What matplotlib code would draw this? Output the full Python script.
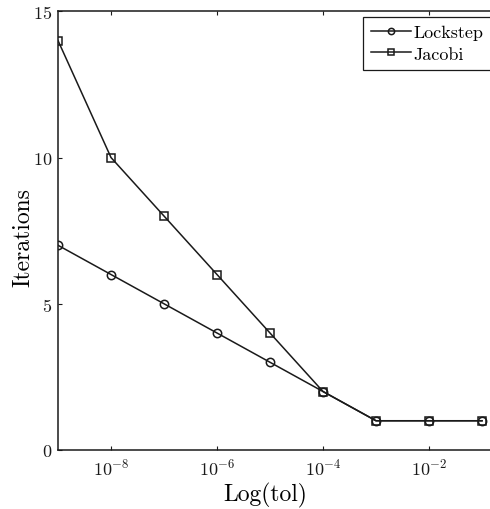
import matplotlib
matplotlib.use("Agg")
import matplotlib.pyplot as plt
import numpy as np

tol = [1e-9, 1e-8, 1e-7, 1e-6, 1e-5, 1e-4, 1e-3, 1e-2, 1e-1]
lockstep = [7, 6, 5, 4, 3, 2, 1, 1, 1]
jacobi = [14, 10, 8, 6, 4, 2, 1, 1, 1]
xticks = [1e-8, 1e-6, 1e-4, 1e-2]
yticks = [0, 5, 10, 15]

plt.rcParams['font.family'] = ['cmr10', 'DejaVu Serif']
plt.rcParams['mathtext.fontset'] = 'cm'
plt.rcParams['axes.formatter.use_mathtext'] = True
plt.rcParams['axes.unicode_minus'] = False

fig = plt.figure(figsize=(4.9, 5.1), dpi=100)
W, H = 490, 510
x0, x1, ytop, ybot = 58, 497, 12.3, 451
ax = fig.add_axes([x0/W, (H-ybot)/H, (x1-x0)/W, (ybot-ytop)/H])
col = '#1a1a1a'
ax.plot(tol, lockstep, '-o', color=col, lw=1.1, ms=6, mfc='none', mew=1.1, label='Lockstep')
ax.plot(tol, jacobi, '-s', color=col, lw=1.1, ms=5.2, mfc='none', mew=1.1, label='Jacobi')
ax.set_xscale('log')
ax.set_xlim(1e-9, 10**(-0.717))
ax.set_ylim(0, 15)
ax.set_xticks(xticks)
ax.set_yticks(yticks)
ax.minorticks_off()
ax.tick_params(direction='in', length=3, width=0.8, top=True, right=True, labelsize=13, colors=col)
ax.tick_params(axis='x', pad=5)
ax.tick_params(axis='y', pad=4)
for s in ax.spines.values():
    s.set_linewidth(1.1)
    s.set_color(col)
ax.set_xlabel('Log(tol)', fontsize=17)
ax.set_ylabel('Iterations', fontsize=17)
ax.xaxis.label.set_va('center')
ax.yaxis.label.set_va('center')
ax.xaxis.set_label_coords((265-x0)/(x1-x0), -(495-ybot)/(ybot-ytop))
ax.yaxis.set_label_coords((23-x0)/(x1-x0), (ybot-237.5)/(ybot-ytop))
leg = ax.legend(loc='upper right', fontsize=13, frameon=True, fancybox=False,
                edgecolor=col, framealpha=1, handlelength=2.2, handletextpad=0.15,
                borderpad=0.45, labelspacing=0.3, borderaxespad=0.3)
leg.get_frame().set_linewidth(0.9)
for h in leg.legend_handles:
    h.set_markersize(4.5)
fig.savefig('out.png', dpi=100)
